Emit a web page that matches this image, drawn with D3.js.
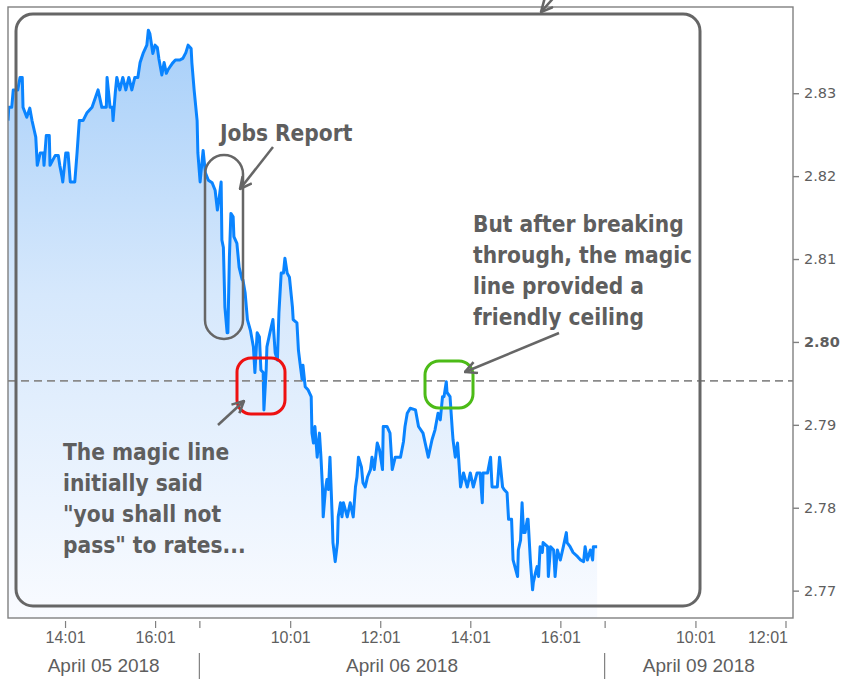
<!DOCTYPE html>
<html>
<head>
<meta charset="utf-8">
<script src="https://cdn.jsdelivr.net/npm/d3@7"></script>
<style>
  body { margin: 0; background: #fff; }
  svg { display: block; }
</style>
</head>
<body>
<svg id="chart" width="846" height="679"></svg>
<script>
// trading sessions shown on the axis (gaps between them are collapsed)
const tradingDays = ['2018-04-05', '2018-04-06', '2018-04-09'];
const dayLabels = ['April 05 2018', 'April 06 2018', 'April 09 2018'];
const sessionOpen = 8;
const sessionClose = 17;
const viewStart = '2018-04-05 12:45';
const viewEnd = '2018-04-09 12:11';

const timeTicks = ['2018-04-05 14:01', '2018-04-05 16:01', '2018-04-06 10:01', '2018-04-06 12:01',
  '2018-04-06 14:01', '2018-04-06 16:01', '2018-04-09 10:01', '2018-04-09 12:01'];
const yTicks = [2.77, 2.78, 2.79, 2.80, 2.81, 2.82, 2.83];
const magicLine = 2.7953;

// 10y yield, April 05
const timesApr05 = [
  '12:45', '12:46', '12:50', '12:52', '12:58', '13:01', '13:04', '13:05', '13:10', '13:14',
  '13:17', '13:20', '13:22', '13:24', '13:28', '13:32', '13:33', '13:36', '13:40', '13:41',
  '13:48', '13:52', '13:54', '13:57', '13:58', '14:02', '14:05', '14:08', '14:14', '14:17',
  '14:20', '14:25', '14:30', '14:37', '14:45', '14:50', '14:56', '14:57', '15:01', '15:04',
  '15:05', '15:08', '15:10', '15:14', '15:18', '15:22', '15:26', '15:30', '15:34', '15:38',
  '15:41', '15:45', '15:50', '15:52', '15:54', '15:56', '15:58', '16:01', '16:04', '16:06',
  '16:10', '16:13', '16:16', '16:18', '16:24', '16:28', '16:34', '16:38', '16:42', '16:45',
  '16:49', '16:50', '16:53', '16:57', '16:58'
];
const yieldsApr05 = [
  2.8267, 2.8283, 2.8283, 2.8304, 2.8304, 2.8319, 2.8319, 2.8283, 2.8271, 2.8282,
  2.8267, 2.8255, 2.8247, 2.8213, 2.8228, 2.8228, 2.8213, 2.8249, 2.8249, 2.8213,
  2.8225, 2.8225, 2.8213, 2.8199, 2.8193, 2.8228, 2.8228, 2.8193, 2.8193, 2.8228,
  2.8267, 2.8267, 2.8276, 2.8283, 2.8304, 2.8283, 2.8283, 2.8319, 2.8283, 2.8283,
  2.8267, 2.8301, 2.8319, 2.8304, 2.8319, 2.8304, 2.8319, 2.8304, 2.8319, 2.8319,
  2.8337, 2.8348, 2.8358, 2.8376, 2.8372, 2.8360, 2.8348, 2.8358, 2.8355, 2.8342,
  2.8322, 2.8337, 2.8324, 2.8328, 2.8336, 2.8340, 2.8340, 2.8342, 2.8349, 2.8358,
  2.8354, 2.8337, 2.8304, 2.8267, 2.8228
];

// 10y yield, April 06
const timesApr06 = [
  '08:01', '08:05', '08:08', '08:12', '08:17', '08:21', '08:24', '08:26', '08:29', '08:30',
  '08:32', '08:34', '08:37', '08:38', '08:40', '08:42', '08:45', '08:46', '08:50', '08:53',
  '08:57', '08:58', '09:01', '09:04', '09:08', '09:12', '09:14', '09:17', '09:20', '09:22',
  '09:25', '09:26', '09:29', '09:30', '09:34', '09:38', '09:41', '09:44', '09:46', '09:49',
  '09:52', '09:54', '09:57', '10:00', '10:04', '10:05', '10:10', '10:12', '10:14', '10:17',
  '10:18', '10:21', '10:25', '10:29', '10:30', '10:32', '10:34', '10:37', '10:40', '10:42',
  '10:44', '10:45', '10:48', '10:50', '10:52', '10:54', '10:57', '10:58', '11:01', '11:04',
  '11:05', '11:08', '11:10', '11:12', '11:17', '11:21', '11:25', '11:28', '11:30', '11:32',
  '11:36', '11:38', '11:41', '11:44', '11:48', '11:50', '11:53', '11:57', '12:00', '12:04',
  '12:05', '12:10', '12:14', '12:17', '12:21', '12:28', '12:32', '12:34', '12:37', '12:41',
  '12:48', '12:52', '12:58', '13:05', '13:10', '13:14', '13:18', '13:21', '13:24', '13:26',
  '13:29', '13:30', '13:34', '13:37', '13:38', '13:41', '13:44', '13:45', '13:48', '13:52',
  '13:57', '14:01', '14:05', '14:10', '14:14', '14:17', '14:18', '14:24', '14:28', '14:30',
  '14:37', '14:40', '14:44', '14:46', '14:50', '14:52', '14:56', '14:58', '15:04', '15:05',
  '15:08', '15:10', '15:12', '15:14', '15:17', '15:18', '15:21', '15:24', '15:25', '15:28',
  '15:30', '15:32', '15:34', '15:37', '15:38', '15:44', '15:45', '15:48', '15:52', '15:54',
  '15:57', '16:01', '16:05', '16:09', '16:10', '16:14', '16:18', '16:24', '16:28', '16:32',
  '16:34', '16:37', '16:41', '16:44', '16:45', '16:50'
];
const yieldsApr06 = [
  2.8193, 2.8231, 2.8204, 2.8195, 2.8192, 2.8183, 2.8159, 2.8171, 2.8193, 2.8123,
  2.8114, 2.8042, 2.8011, 2.8011, 2.8102, 2.8155, 2.8151, 2.8127, 2.8119, 2.8090,
  2.8075, 2.8075, 2.8059, 2.8027, 2.8014, 2.7994, 2.7963, 2.8011, 2.8006, 2.7966,
  2.7963, 2.7918, 2.7966, 2.7994, 2.8011, 2.8027, 2.7987, 2.7978, 2.8035, 2.8083,
  2.8083, 2.8101, 2.8083, 2.8078, 2.8042, 2.8027, 2.8023, 2.7990, 2.7975, 2.7954,
  2.7972, 2.7946, 2.7942, 2.7934, 2.7890, 2.7878, 2.7898, 2.7861, 2.7890, 2.7861,
  2.7825, 2.7789, 2.7822, 2.7834, 2.7822, 2.7861, 2.7789, 2.7758, 2.7735, 2.7758,
  2.7789, 2.7806, 2.7789, 2.7806, 2.7789, 2.7806, 2.7789, 2.7825, 2.7837, 2.7861,
  2.7849, 2.7830, 2.7825, 2.7837, 2.7846, 2.7861, 2.7846, 2.7878, 2.7870, 2.7846,
  2.7898, 2.7898, 2.7890, 2.7846, 2.7861, 2.7861, 2.7880, 2.7898, 2.7914, 2.7920,
  2.7918, 2.7898, 2.7890, 2.7861, 2.7882, 2.7894, 2.7914, 2.7906, 2.7934, 2.7934,
  2.7952, 2.7939, 2.7934, 2.7894, 2.7882, 2.7861, 2.7878, 2.7866, 2.7825, 2.7842,
  2.7825, 2.7842, 2.7825, 2.7842, 2.7842, 2.7806, 2.7842, 2.7842, 2.7861, 2.7825,
  2.7825, 2.7861, 2.7825, 2.7822, 2.7818, 2.7786, 2.7786, 2.7737, 2.7717, 2.7749,
  2.7761, 2.7806, 2.7770, 2.7770, 2.7786, 2.7786, 2.7737, 2.7701, 2.7710, 2.7722,
  2.7729, 2.7717, 2.7753, 2.7746, 2.7758, 2.7753, 2.7717, 2.7753, 2.7749, 2.7717,
  2.7749, 2.7737, 2.7753, 2.7770, 2.7758, 2.7753, 2.7746, 2.7741, 2.7737, 2.7735,
  2.7753, 2.7737, 2.7749, 2.7737, 2.7753, 2.7753
];

const parseTime = d3.timeParse('%Y-%m-%d %H:%M');
const fmtDay = d3.timeFormat('%Y-%m-%d');

// minutes of trading time since the first session opened
function tradingMinutes(date) {
  const idx = tradingDays.indexOf(fmtDay(date));
  return idx * (sessionClose - sessionOpen) * 60 + (date.getHours() - sessionOpen) * 60 + date.getMinutes();
}

const data = [
  ...timesApr05.map((t, i) => ({ t: parseTime('2018-04-05 ' + t), v: yieldsApr05[i] })),
  ...timesApr06.map((t, i) => ({ t: parseTime('2018-04-06 ' + t), v: yieldsApr06[i] }))
];

const plot = { left: 8, top: 7, right: 793, bottom: 618 };

const x = d3.scaleLinear()
  .domain([tradingMinutes(parseTime(viewStart)), tradingMinutes(parseTime(viewEnd))])
  .range([plot.left, plot.right]);

const y = d3.scaleLinear()
  .domain([2.7667, 2.8404])
  .range([plot.bottom, plot.top]);

const svg = d3.select('#chart');
const grey = '#666';
const textGrey = '#5e5e5e';

const defs = svg.append('defs');
const grad = defs.append('linearGradient')
  .attr('id', 'fillGrad')
  .attr('gradientUnits', 'userSpaceOnUse')
  .attr('x1', 0).attr('y1', y(2.8376))
  .attr('x2', 0).attr('y2', plot.bottom);
grad.append('stop').attr('offset', 0).attr('stop-color', '#a7cff9');
grad.append('stop').attr('offset', 0.45).attr('stop-color', '#d6e8fc');
grad.append('stop').attr('offset', 1).attr('stop-color', '#f9fbff');

defs.append('clipPath').attr('id', 'plotClip')
  .append('rect')
  .attr('x', plot.left).attr('y', plot.top)
  .attr('width', plot.right - plot.left).attr('height', plot.bottom - plot.top);

defs.append('marker')
  .attr('id', 'arrowHead')
  .attr('viewBox', '0 0 12 12')
  .attr('refX', 11).attr('refY', 6)
  .attr('markerWidth', 14).attr('markerHeight', 14)
  .attr('markerUnits', 'userSpaceOnUse')
  .attr('orient', 'auto')
  .append('path')
  .attr('d', 'M1,1 L11,6 L1,11')
  .attr('fill', 'none')
  .attr('stroke', grey)
  .attr('stroke-width', 2.2)
  .attr('stroke-linejoin', 'miter');

const chart = svg.append('g').attr('clip-path', 'url(#plotClip)');

const area = d3.area()
  .x(d => x(tradingMinutes(d.t)))
  .y0(plot.bottom)
  .y1(d => y(d.v));

const line = d3.line()
  .x(d => x(tradingMinutes(d.t)))
  .y(d => y(d.v));

chart.append('path')
  .datum(data)
  .attr('d', area)
  .attr('fill', 'url(#fillGrad)');

chart.append('path')
  .datum(data)
  .attr('d', line)
  .attr('fill', 'none')
  .attr('stroke', '#0a84ff')
  .attr('stroke-width', 3)
  .attr('stroke-linejoin', 'round');

// the "magic line"
svg.append('line')
  .attr('x1', plot.left).attr('x2', plot.right)
  .attr('y1', y(magicLine)).attr('y2', y(magicLine))
  .attr('stroke', '#8a8a8a')
  .attr('stroke-width', 1.6)
  .attr('stroke-dasharray', '8,5');

// frame
svg.append('rect')
  .attr('x', plot.left).attr('y', plot.top)
  .attr('width', plot.right - plot.left).attr('height', plot.bottom - plot.top)
  .attr('fill', 'none')
  .attr('stroke', '#808080')
  .attr('stroke-width', 1.4);

// right axis
const yAxis = svg.append('g')
  .attr('transform', `translate(${plot.right},0)`)
  .call(d3.axisRight(y).tickValues(yTicks).tickSize(6).tickPadding(5).tickFormat(d3.format('.2f')));
yAxis.select('.domain').remove();
yAxis.selectAll('line').attr('stroke', '#808080').attr('stroke-width', 1.4);
yAxis.selectAll('text')
  .attr('fill', textGrey)
  .style('font-family', 'Tahoma, "DejaVu Sans", sans-serif')
  .style('font-size', '14.5px')
  .style('font-weight', d => d === 2.80 ? 'bold' : 'normal');

// bottom axis: hour ticks plus session boundaries
const sessionLen = (sessionClose - sessionOpen) * 60;
const boundaries = [sessionLen, sessionLen * 2];
const hourTicks = timeTicks.map(s => tradingMinutes(parseTime(s)));
const hourLabel = d3.timeFormat('%H:%M');
const labelMap = new Map(timeTicks.map(s => [tradingMinutes(parseTime(s)), hourLabel(parseTime(s))]));

const xAxis = svg.append('g')
  .attr('transform', `translate(0,${plot.bottom + 3})`)
  .call(d3.axisBottom(x)
    .tickValues([...hourTicks, ...boundaries])
    .tickSize(7)
    .tickPadding(4)
    .tickFormat(d => labelMap.get(d) || ''));
xAxis.select('.domain').remove();
xAxis.selectAll('line').attr('stroke', '#808080').attr('stroke-width', 1.2);
xAxis.selectAll('text')
  .attr('fill', textGrey)
  .style('font-family', '"Liberation Sans Narrow", "Arial Narrow", sans-serif')
  .style('font-size', '16px');
// keep the last label inside the chart
xAxis.selectAll('.tick').filter(d => d === hourTicks[hourTicks.length - 1])
  .select('text').attr('text-anchor', 'end').attr('x', 2);

// day separators and labels
const dayEdges = [x.range()[0], x(boundaries[0]), x(boundaries[1]), x.range()[1]];
svg.append('g').selectAll('line')
  .data(boundaries)
  .join('line')
  .attr('x1', d => x(d)).attr('x2', d => x(d))
  .attr('y1', 653).attr('y2', 679)
  .attr('stroke', '#808080')
  .attr('stroke-width', 1.2);

svg.append('g').selectAll('text')
  .data(dayLabels)
  .join('text')
  .attr('x', (d, i) => (dayEdges[i] + dayEdges[i + 1]) / 2)
  .attr('y', 672)
  .attr('text-anchor', 'middle')
  .attr('fill', textGrey)
  .style('font-family', '"Liberation Sans Narrow", "Arial Narrow", sans-serif')
  .style('font-size', '19px')
  .text(d => d);

// annotations
const notes = svg.append('g');

notes.append('rect')
  .attr('x', 16).attr('y', 14).attr('width', 684).attr('height', 592)
  .attr('rx', 17)
  .attr('fill', 'none').attr('stroke', grey).attr('stroke-width', 3);

notes.append('rect')
  .attr('x', 205).attr('y', 155).attr('width', 38).attr('height', 184)
  .attr('rx', 19)
  .attr('fill', 'none').attr('stroke', grey).attr('stroke-width', 2.5);

notes.append('rect')
  .attr('x', 237).attr('y', 358).attr('width', 48).attr('height', 56)
  .attr('rx', 14)
  .attr('fill', 'none').attr('stroke', '#ee1111').attr('stroke-width', 3);

notes.append('rect')
  .attr('x', 425).attr('y', 361).attr('width', 48).attr('height', 47)
  .attr('rx', 14)
  .attr('fill', 'none').attr('stroke', '#4cbb17').attr('stroke-width', 3);

const arrows = [
  [557, -6, 541, 12],
  [273, 147, 240, 189],
  [218, 425, 244, 401],
  [559, 333, 465, 372]
];
notes.selectAll('line.arrow')
  .data(arrows)
  .join('line')
  .attr('class', 'arrow')
  .attr('x1', d => d[0]).attr('y1', d => d[1])
  .attr('x2', d => d[2]).attr('y2', d => d[3])
  .attr('stroke', grey)
  .attr('stroke-width', 2.5)
  .attr('marker-end', 'url(#arrowHead)');

const noteTexts = [
  { x: 220, y: 141, lines: ['Jobs Report'] },
  { x: 63, y: 460, lines: ['The magic line', 'initially said', '"you shall not', 'pass" to rates...'] },
  { x: 473, y: 232, lines: ['But after breaking', 'through, the magic', 'line provided a', 'friendly ceiling'] }
];
noteTexts.forEach(n => {
  notes.append('text')
    .attr('x', n.x).attr('y', n.y)
    .attr('fill', textGrey)
    .style('font-family', '"DejaVu Sans Condensed", "DejaVu Sans", sans-serif')
    .style('font-weight', 'bold')
    .style('font-size', '22.5px')
    .selectAll('tspan')
    .data(n.lines)
    .join('tspan')
    .attr('x', n.x)
    .attr('dy', (d, i) => i === 0 ? 0 : 31)
    .text(d => d);
});
</script>
</body>
</html>
